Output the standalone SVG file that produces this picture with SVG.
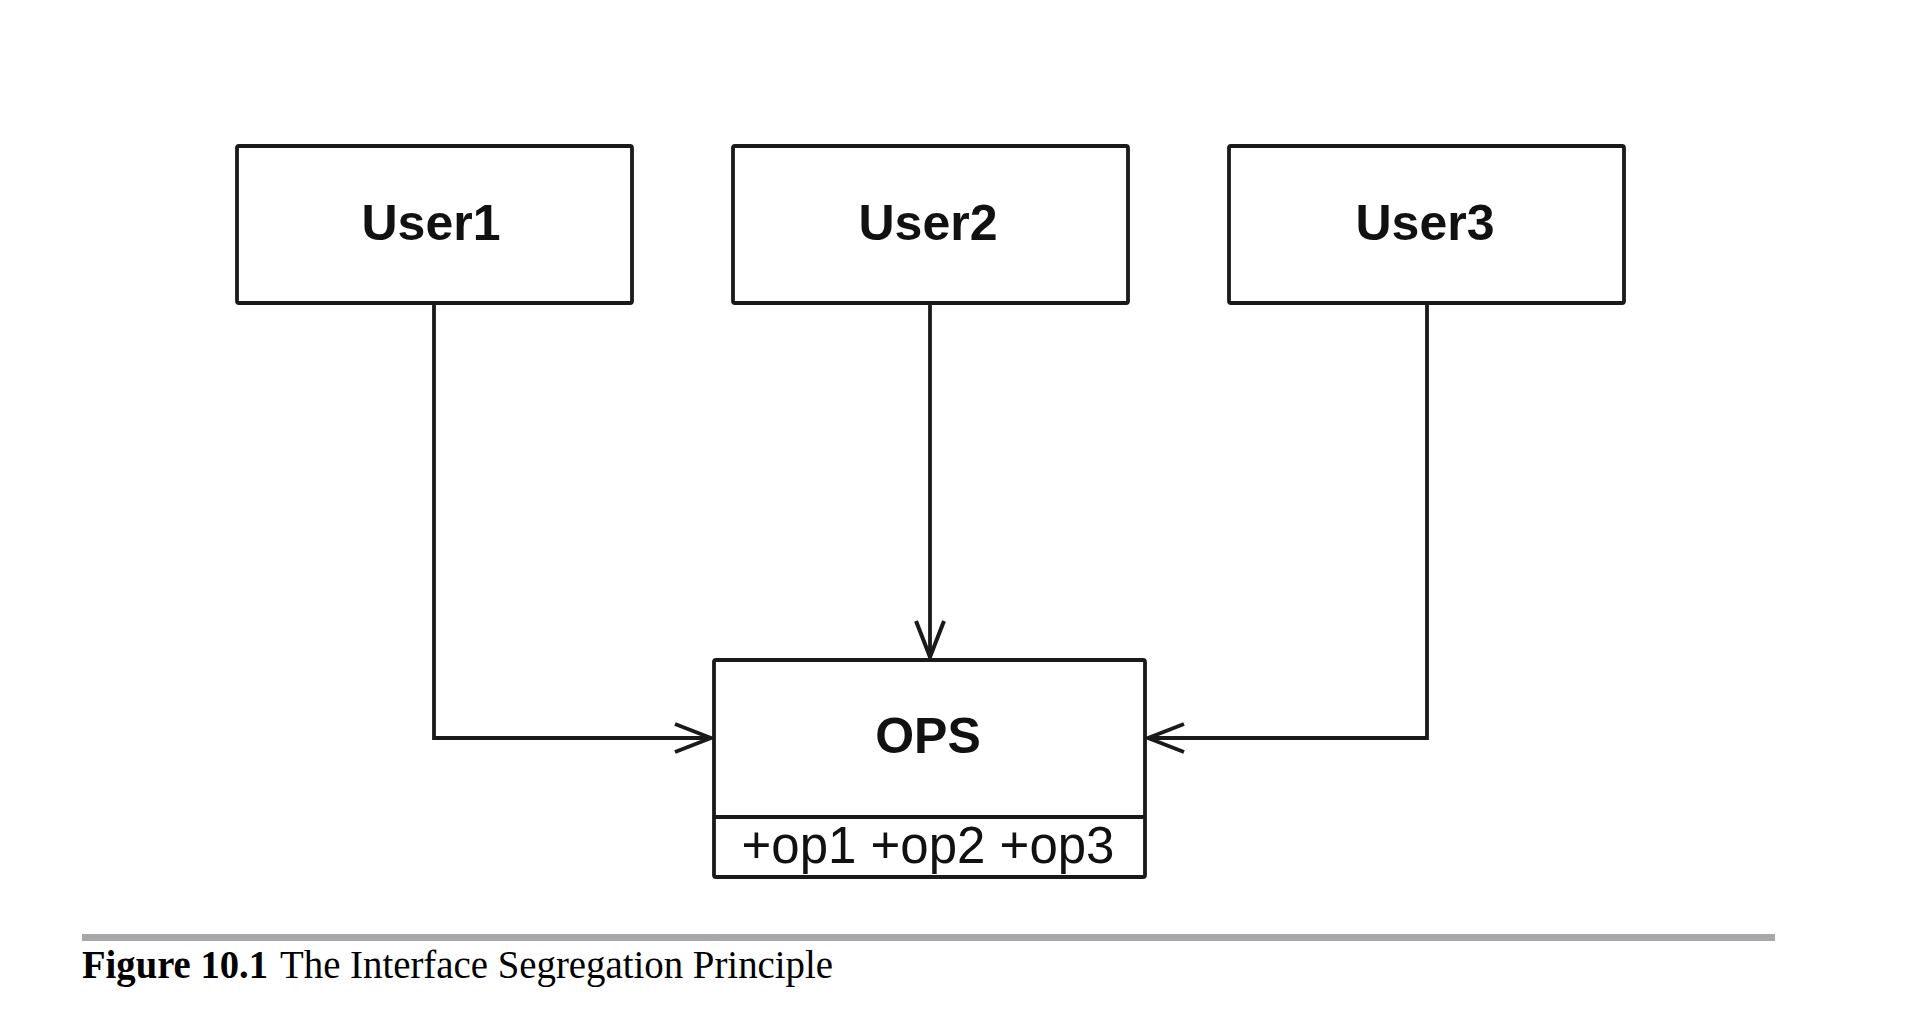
<svg xmlns="http://www.w3.org/2000/svg" width="1906" height="1034" viewBox="0 0 1906 1034">
<style>
.box{fill:#fff;stroke:#1a1a1a;stroke-width:3.8}
.lbl{font-family:"Liberation Sans",Arial,sans-serif;font-weight:bold;font-size:50px;fill:#111;text-anchor:middle}
.ops{font-family:"Liberation Sans",Arial,sans-serif;font-size:51px;fill:#111;text-anchor:middle}
.conn{fill:none;stroke:#1a1a1a;stroke-width:3.8}
.cap{font-family:"Liberation Serif","Times New Roman",serif;font-size:40px;fill:#000}
</style>
<defs>
<marker id="open" viewBox="0 0 40 32" refX="38" refY="16" markerWidth="40" markerHeight="32" markerUnits="userSpaceOnUse" orient="auto">
<path d="M2,2 L38,16 L2,30" fill="none" stroke="#1a1a1a" stroke-width="4"/>
</marker>
</defs>
<rect width="1906" height="1034" fill="#fff"/>
<g id="User1"><rect class="box" x="237" y="146" width="395" height="157" rx="2"/><text class="lbl" x="431" y="240">User1</text></g>
<g id="User2"><rect class="box" x="733" y="146" width="395" height="157" rx="2"/><text class="lbl" x="928" y="240">User2</text></g>
<g id="User3"><rect class="box" x="1229" y="146" width="395" height="157" rx="2"/><text class="lbl" x="1425" y="240">User3</text></g>
<g id="OPS">
<rect class="box" x="714" y="660" width="431" height="217" rx="2"/>
<line class="conn" x1="714" y1="817" x2="1145" y2="817"/>
<text class="lbl" x="928" y="753">OPS</text>
<text class="ops" x="928" y="863">+op1 +op2 +op3</text>
</g>
<g id="connectors">
<path class="conn" d="M434,303 L434,738 L711,738" marker-end="url(#open)"/>
<path class="conn" d="M930,303 L930,657" marker-end="url(#open)"/>
<path class="conn" d="M1427,303 L1427,738 L1148,738" marker-end="url(#open)"/>
</g>
<g id="caption">
<rect x="82" y="934" width="1693" height="7" fill="#a7a7aa"/>
<text class="cap" x="82" y="978" font-weight="bold" textLength="186" lengthAdjust="spacingAndGlyphs">Figure 10.1</text>
<text class="cap" x="280" y="978" textLength="553" lengthAdjust="spacingAndGlyphs">The Interface Segregation Principle</text>
</g>
</svg>
